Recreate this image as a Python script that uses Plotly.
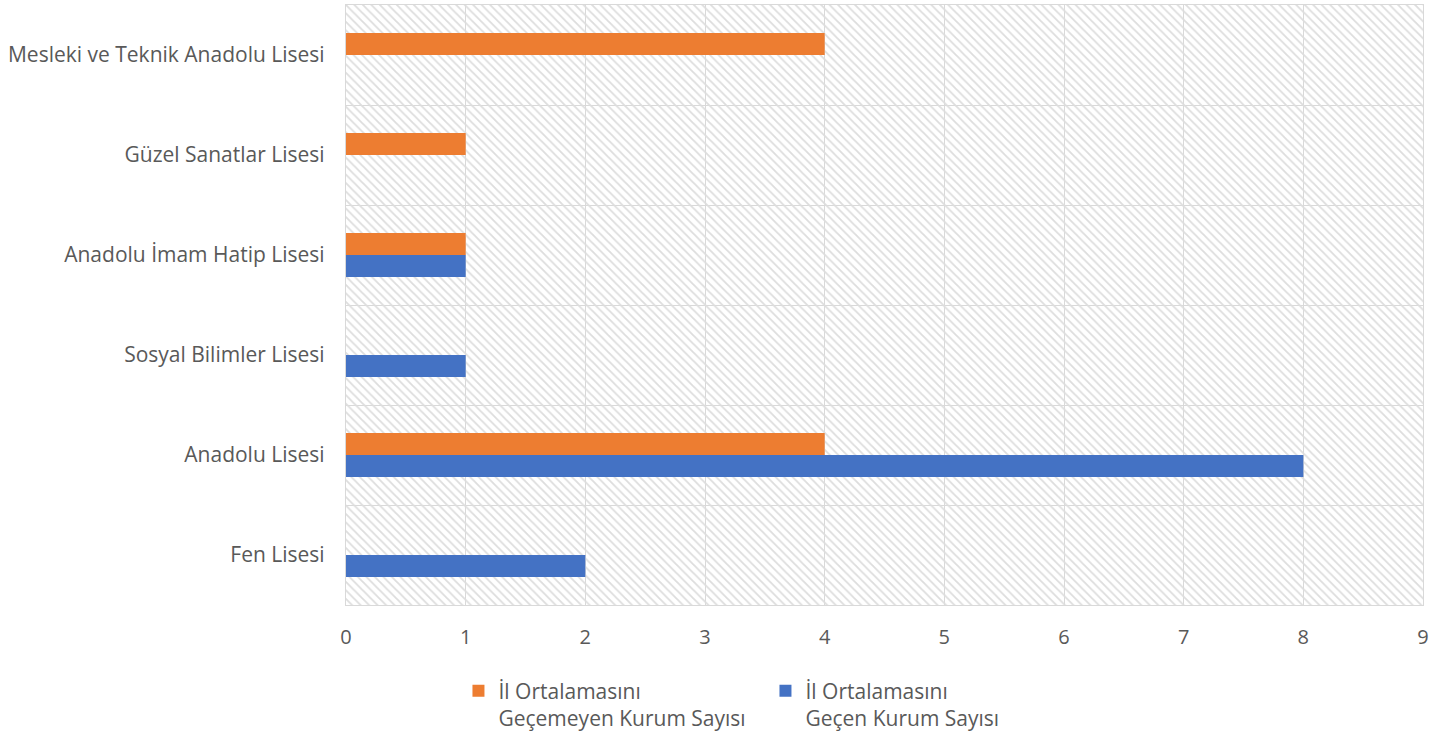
import plotly.graph_objects as go

categories = ["Fen Lisesi", "Anadolu Lisesi", "Sosyal Bilimler Lisesi",
              "Anadolu İmam Hatip Lisesi", "Güzel Sanatlar Lisesi",
              "Mesleki ve Teknik Anadolu Lisesi"]
gecen = [2, 8, 1, 1, 0, 0]
gecemeyen = [0, 4, 0, 1, 1, 4]
x_ticks = list(range(0, 10))

name_gecemeyen = "İl Ortalamasını<br>Geçemeyen Kurum Sayısı"
name_gecen = "İl Ortalamasını<br>Geçen Kurum Sayısı"

ORANGE = "#ED7D31"
BLUE = "#4472C4"
GRID = "#D9D9D9"
TEXT = "#595959"
FONT = "Open Sans"
FS = 20
FS_CAT = 21

ypos = list(range(len(categories)))

fig = go.Figure()

# hatched plot-area background (decoration) on the hidden main axes
fig.add_trace(go.Bar(
    x=[1], y=[0.5], width=[1], orientation="h", base=0,
    xaxis="x", yaxis="y", showlegend=False, hoverinfo="skip",
    marker=dict(color="rgba(0,0,0,0)", line=dict(width=0),
                pattern=dict(shape="\\", fgcolor="#DDDDDD", bgcolor="rgba(0,0,0,0)",
                             size=6, solidity=0.3, fillmode="replace")),
))

fig.add_trace(go.Bar(
    x=gecen, y=ypos, orientation="h", name=name_gecen,
    marker=dict(color=BLUE, line=dict(width=0)),
    xaxis="x2", yaxis="y2", legendrank=2,
))
fig.add_trace(go.Bar(
    x=gecemeyen, y=ypos, orientation="h", name=name_gecemeyen,
    marker=dict(color=ORANGE, line=dict(width=0)),
    xaxis="x2", yaxis="y2", legendrank=1,
))

fig.update_layout(
    width=1447, height=733,
    margin=dict(l=346, r=24, t=5, b=128),
    paper_bgcolor="white", plot_bgcolor="white",
    font=dict(family=FONT, size=FS, color=TEXT),
    barmode="group", bargap=0.56, bargroupgap=0,
    xaxis=dict(range=[0, 1], visible=False, fixedrange=True),
    yaxis=dict(range=[0, 1], visible=False, fixedrange=True),
    xaxis2=dict(overlaying="x", anchor="y2", side="bottom", range=[0, 9],
                tickvals=x_ticks, showgrid=True, gridcolor=GRID, gridwidth=1.3,
                zeroline=False, showline=True, mirror=True, linecolor=GRID, linewidth=1.3,
                ticks="", ticklabelstandoff=14, tickfont=dict(size=FS, color=TEXT)),
    yaxis2=dict(overlaying="y", anchor="x2", side="left", range=[-0.5, 5.5],
                tickvals=ypos, ticktext=categories, showgrid=False, zeroline=False,
                showline=True, mirror=True, linecolor=GRID, linewidth=1.3,
                ticks="", ticklabelstandoff=16, tickfont=dict(size=FS_CAT, color=TEXT),
                minor=dict(tickvals=[-0.5, 0.5, 1.5, 2.5, 3.5, 4.5, 5.5], showgrid=True,
                           gridcolor=GRID, gridwidth=1.3, ticks="")),
    legend=dict(orientation="h", xref="container", yref="container",
                x=0.529, xanchor="center", y=0.085, yanchor="top",
                valign="top", font=dict(size=FS_CAT, color=TEXT),
                entrywidth=262, itemclick=False, itemdoubleclick=False),
    showlegend=True,
)

fig.write_html("out.html", config={"displayModeBar": False},
               post_script="document.body.style.margin='0';")
